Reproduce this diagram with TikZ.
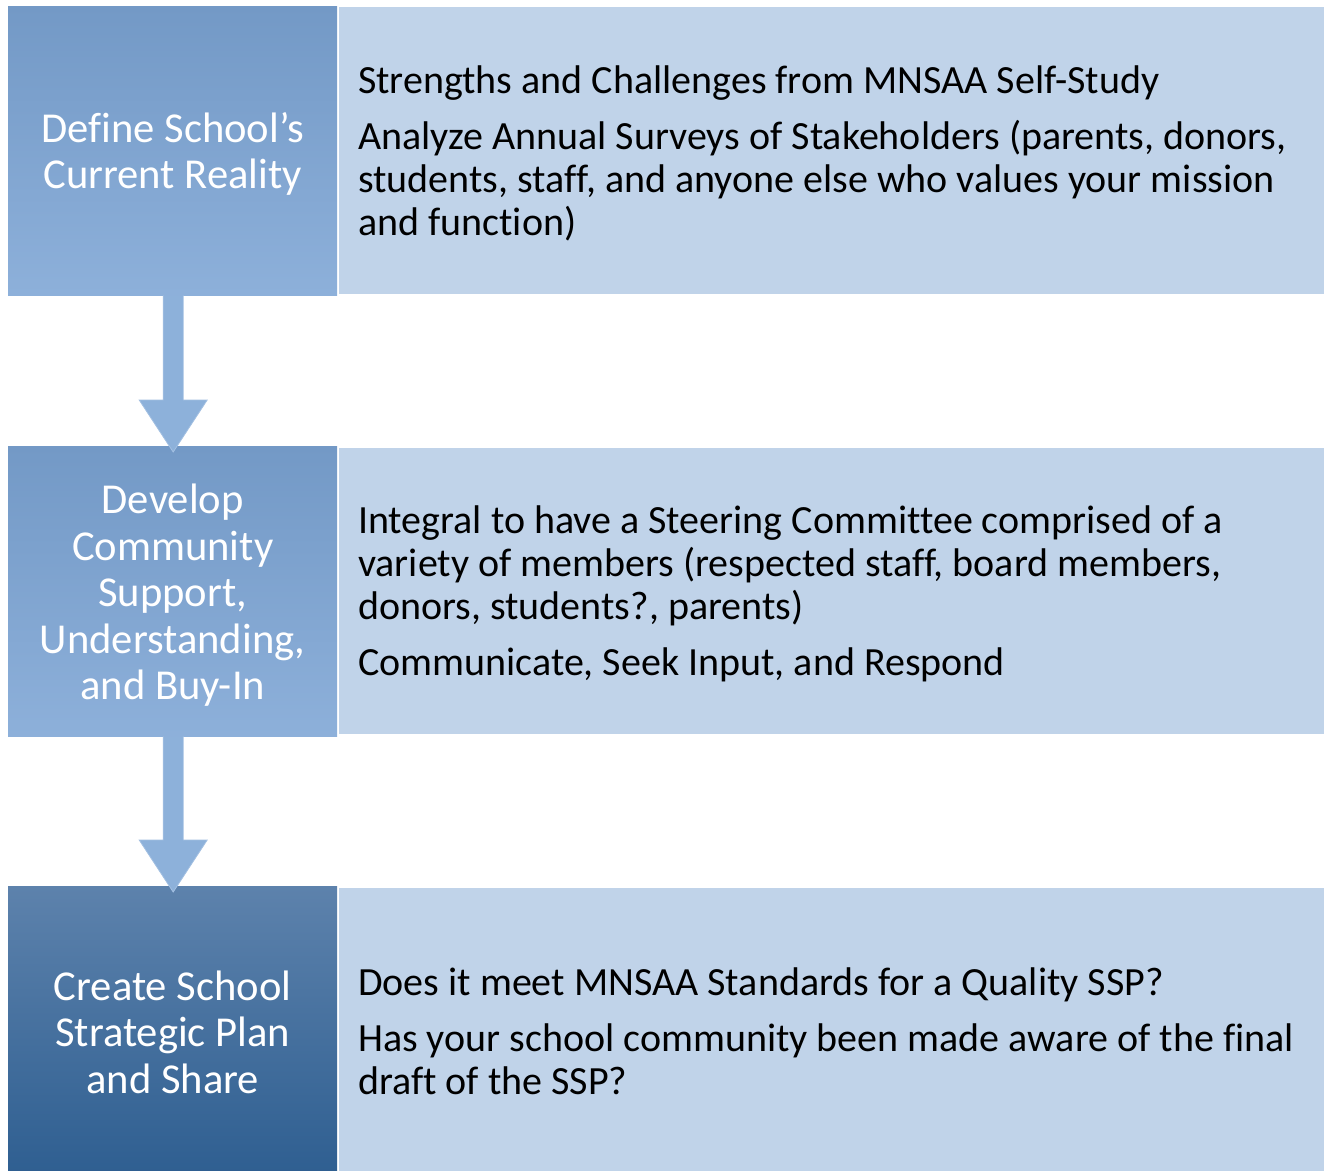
\documentclass[tikz,border=0pt]{standalone}
\usepackage{fontspec}
\setmainfont{Carlito}[Ligatures=NoCommon]
\usetikzlibrary{calc}

\definecolor{stepTop}{HTML}{7399C6}
\definecolor{stepBot}{HTML}{8DB0DA}
\definecolor{lastTop}{HTML}{5D82AC}
\definecolor{lastBot}{HTML}{2F5F91}
\definecolor{panel}{HTML}{C0D3E9}
\definecolor{arrowfill}{HTML}{8DB1DA}
\definecolor{arrowedge}{HTML}{A3C0E2}

\tikzset{
  stepbox/.style={rectangle, anchor=north west, inner sep=0pt, minimum width=329pt,
    top color=stepTop, bottom color=stepBot, draw=none},
  lastbox/.style={stepbox, top color=lastTop, bottom color=lastBot},
  steptext/.style={inner sep=0pt, text=white, align=center,
    font=\fontsize{42.6}{46.5}\selectfont},
  panelbox/.style={rectangle, anchor=north west, inner sep=0pt, minimum width=985pt,
    fill=panel, draw=none},
  paneltext/.style={anchor=west, inner sep=0pt, align=left, text=black,
    font=\fontsize{40}{43}\selectfont},
  flowarrow/.style={fill=arrowfill, draw=arrowedge, line width=0.8pt, line join=miter}
}

\begin{document}
\begin{tikzpicture}[x=1pt, y=-1pt]
  % page frame
  \useasboundingbox[fill=white] (0,0) rectangle (1332,1170);

  % step boxes on the left
  \node[stepbox, minimum height=289pt] (s1) at (8,6) {};
  \node[stepbox, minimum height=290pt] (s2) at (8,446) {};
  \node[lastbox, minimum height=286pt] (s3) at (8,886) {};

  \node[steptext] (l1) at ($(s1.center)+(0,3)$) {Define School’s\\Current Reality};
  \node[steptext] (l2) at ($(s2.center)+(0,4)$) {Develop\\Community\\Support,\\Understanding,\\and Buy-In};
  \node[steptext] (l3) at ($(s3.center)+(0,3)$) {Create School\\Strategic Plan\\and Share};

  % detail panels on the right
  \node[panelbox, minimum height=287pt] (p1) at (339,7) {};
  \node[panelbox, minimum height=286pt] (p2) at (339,448) {};
  \node[panelbox, minimum height=284pt] (p3) at (339,888) {};

  \node[paneltext] (t1) at ($(p1.west)+(19,3)$) {Strengths and Challenges from MNSAA Self-Study\\[13pt]
    Analyze Annual Surveys of Stakeholders (parents, donors,\\
    students, staff, and anyone else who values your mission\\
    and function)};
  \node[paneltext] (t2) at ($(p2.west)+(19,3)$) {Integral to have a Steering Committee comprised of a\\
    variety of members (respected staff, board members,\\
    donors, students?, parents)\\[13pt]
    Communicate, Seek Input, and Respond};
  \node[paneltext] (t3) at ($(p3.west)+(19,1)$) {Does it meet MNSAA Standards for a Quality SSP?\\[13pt]
    Has your school community been made aware of the final\\
    draft of the SSP?};

  % block arrows between the steps
  \foreach \a/\b in {s1/s2, s2/s3} {
    \coordinate (tip) at ($(\b.north)+(0.5,6)$);
    \coordinate (top) at ($(\a.south)+(0.5,0)$);
    \draw[flowarrow]
      ($(top)+(-10,0)$) -- ($(tip)+(-10,-52)$) -- ($(tip)+(-34,-52)$) -- (tip)
      -- ($(tip)+(34,-52)$) -- ($(tip)+(10,-52)$) -- ($(top)+(10,0)$);
  }
\end{tikzpicture}
\end{document}
